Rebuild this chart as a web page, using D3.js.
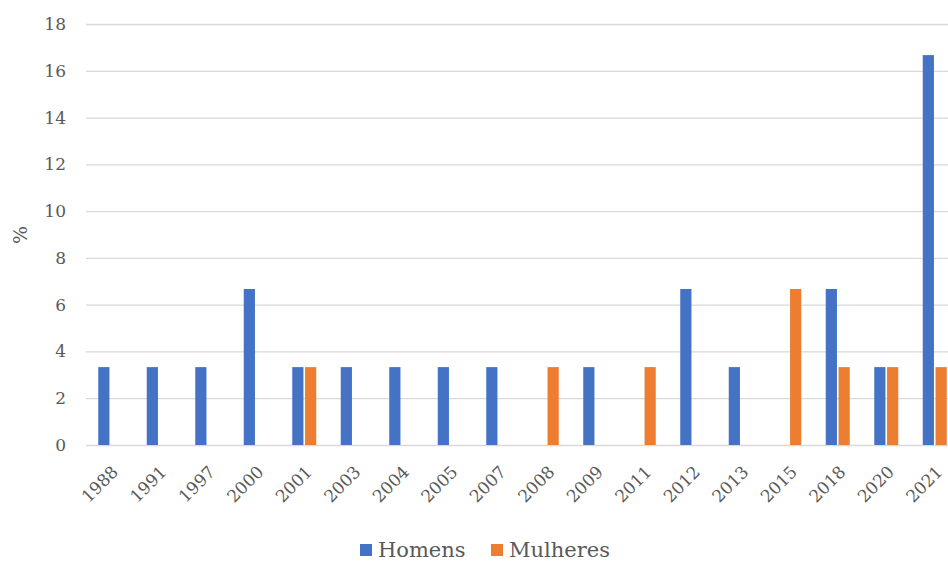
<!DOCTYPE html>
<html>
<head>
<meta charset="utf-8">
<script src="https://cdn.jsdelivr.net/npm/d3@7"></script>
<style>
  html, body { margin: 0; padding: 0; background: #ffffff; }
  svg { display: block; }
  text { font-family: "DejaVu Serif", "Liberation Serif", serif; fill: #595959; }
</style>
</head>
<body>
<svg id="chart" width="948" height="563"></svg>
<script>
// Years on the category axis
const years = ["1988", "1991", "1997", "2000", "2001", "2003", "2004", "2005", "2007",
               "2008", "2009", "2011", "2012", "2013", "2015", "2018", "2020", "2021"];
// Share (%) per year, by sex
const homens   = [3.33, 3.33, 3.33, 6.67, 3.33, 3.33, 3.33, 3.33, 3.33,
                  0, 3.33, 0, 6.67, 3.33, 0, 6.67, 3.33, 16.67];
const mulheres = [0, 0, 0, 0, 3.33, 0, 0, 0, 0,
                  3.33, 0, 3.33, 0, 0, 6.67, 3.33, 3.33, 3.33];
const seriesNames = ["Homens", "Mulheres"];
const seriesColors = ["#4472C4", "#ED7D31"];
const yTicks = [0, 2, 4, 6, 8, 10, 12, 14, 16, 18];

const svg = d3.select("#chart");
const plot = { left: 86, right: 959, top: 24, bottom: 445 };

const x0 = d3.scaleBand()
  .domain(years)
  .range([plot.left, plot.right])
  .paddingInner(0.505)
  .paddingOuter(0.2525);

const x1 = d3.scaleBand()
  .domain(seriesNames)
  .range([0, x0.bandwidth()])
  .paddingInner(0.125);

const y = d3.scaleLinear().domain([0, 18]).range([plot.bottom, plot.top]);

// Horizontal gridlines with tick labels
const yAxis = d3.axisLeft(y)
  .tickValues(yTicks)
  .tickSize(-(948 - plot.left))
  .tickPadding(20)
  .tickFormat(d3.format("d"));

const gy = svg.append("g")
  .attr("transform", `translate(${plot.left},0)`)
  .call(yAxis);
gy.select(".domain").remove();
gy.selectAll(".tick line").attr("stroke", "#d9d9d9").attr("stroke-width", 1.3);
gy.selectAll(".tick text")
  .attr("font-size", 17)
  .attr("font-family", "DejaVu Serif, serif")
  .attr("fill", "#595959");

// Bars
const rows = years.map((yr, i) => ({ year: yr, values: [homens[i], mulheres[i]] }));
const groups = svg.append("g").selectAll("g")
  .data(rows)
  .join("g")
  .attr("transform", d => `translate(${x0(d.year)},0)`);

groups.selectAll("rect")
  .data(d => d.values.map((v, k) => ({ name: seriesNames[k], value: v, color: seriesColors[k] })))
  .join("rect")
  .filter(d => d.value > 0)
  .attr("x", d => x1(d.name))
  .attr("width", x1.bandwidth())
  .attr("y", d => y(d.value))
  .attr("height", d => y(0) - y(d.value))
  .attr("fill", d => d.color);

// Rotated year labels
const xAxis = d3.axisBottom(x0).tickSize(0).tickPadding(0);
const gx = svg.append("g")
  .attr("transform", `translate(0,${plot.bottom})`)
  .call(xAxis);
gx.select(".domain").remove();
gx.selectAll(".tick text")
  .attr("font-size", 17)
  .attr("font-family", "DejaVu Serif, serif")
  .attr("fill", "#595959")
  .attr("text-anchor", "end")
  .attr("dy", null)
  .attr("y", 0)
  .attr("transform", "translate(9,28) rotate(-45)");

// Vertical axis title
svg.append("text")
  .attr("transform", "translate(27,235) rotate(-90)")
  .attr("text-anchor", "middle")
  .attr("font-size", 19)
  .text("%");

// Legend
const legend = svg.append("g").attr("transform", "translate(360,0)");
const legendX = [0, 131];
seriesNames.forEach((name, k) => {
  const g = legend.append("g").attr("transform", `translate(${legendX[k]},0)`);
  g.append("rect")
    .attr("x", 0).attr("y", 544)
    .attr("width", 12).attr("height", 12)
    .attr("fill", seriesColors[k]);
  g.append("text")
    .attr("x", 18).attr("y", 557)
    .attr("font-size", 21)
    .text(name);
});
</script>
</body>
</html>
